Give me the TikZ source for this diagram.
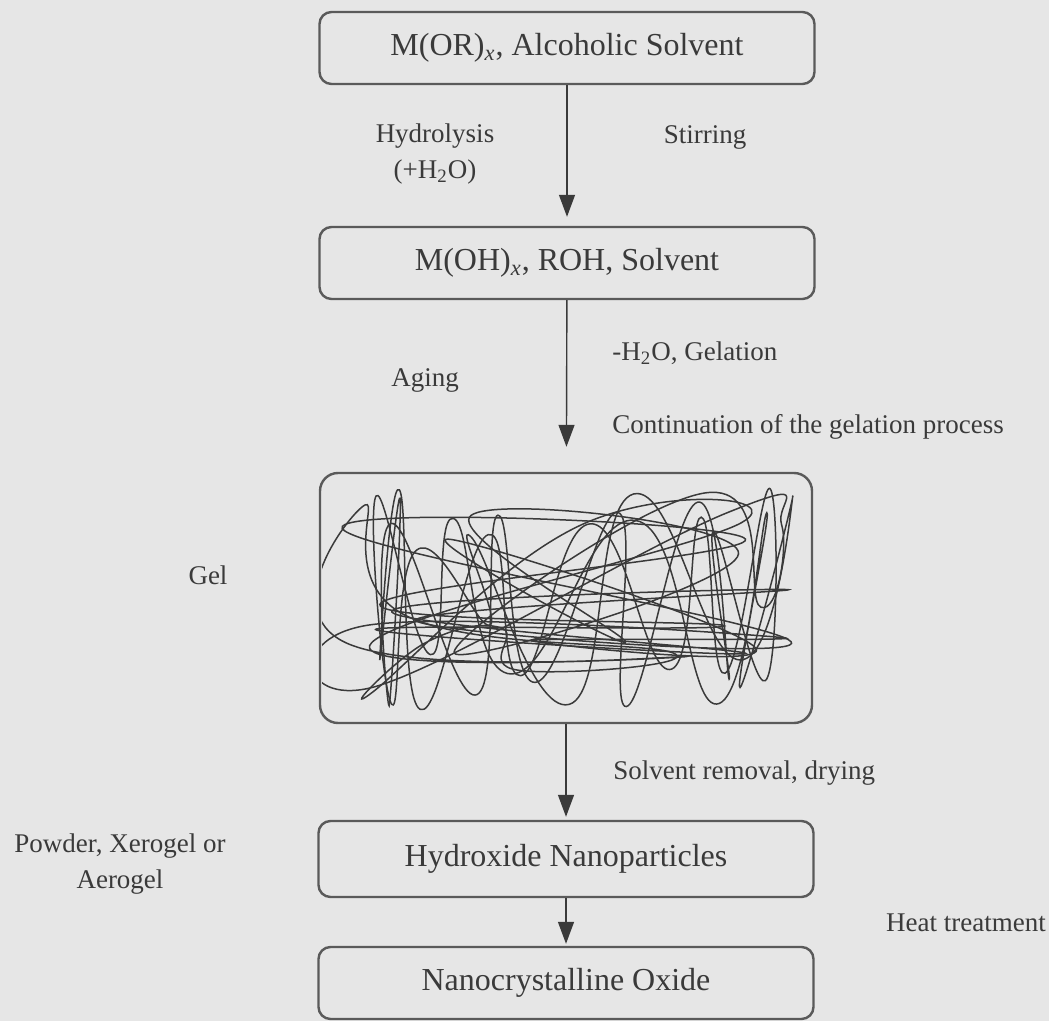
\documentclass[tikz,border=0pt]{standalone}
\usepackage{fontspec}
\setmainfont{Liberation Serif}
\usetikzlibrary{arrows.meta}
\definecolor{paper}{HTML}{E6E6E6}
\definecolor{ink}{HTML}{3A3A3A}
\definecolor{edge}{HTML}{5A5A5A}

\begin{document}
\begin{tikzpicture}[x=0.5pt,y=-0.5pt,
    stage/.style={draw=edge, line width=1.2pt, rounded corners=6pt, minimum width=247.5pt,
        minimum height=36pt, inner sep=0pt, text=ink, font=\fontsize{16}{19}\selectfont},
    note/.style={inner sep=0pt, text=ink, align=center, font=\fontsize{13.5}{18}\selectfont},
    flow/.style={draw=ink, line width=0.7pt, -{Triangle[width=8pt,length=11pt]}}]
    % page
    \fill[paper] (0,0) rectangle (1049,1021);
    \useasboundingbox (0,0) rectangle (1049,1021);

    % stages
    \node[stage] (mor) at (567,48) {M(OR)\textsubscript{\textit{x}}, Alcoholic Solvent};
    \node[stage] (moh) at (567,263) {M(OH)\textsubscript{\textit{x}}, ROH, Solvent};
    \node[stage, minimum width=246pt, minimum height=125pt, rounded corners=9pt] (gel) at (566,598) {};
    \node[stage, minimum height=38pt] (hydrox) at (566,859) {Hydroxide Nanoparticles};
    \node[stage] (oxide) at (566,983) {Nanocrystalline Oxide};

    % gel network: loose zigzag loops, plus random and sideways ones
    \begin{scope}[ink, line width=0.75pt]
        \clip[rounded corners=9pt] (322,475) rectangle (810,721);
        \pgfmathsetseed{23}
        \draw plot[smooth cycle, tension=0.85, samples=22, domain=1:22, variable=\t]
            ({565-190*cos(\t*360/22)+70*rnd-35}, {ifthenelse(mod(\t,2)==0, 488+50*rnd, 650+60*rnd)});
        \draw plot[smooth cycle, tension=0.85, samples=16, domain=1:16, variable=\t]
            ({565-190*cos(\t*360/16+30)+90*rnd-45}, {ifthenelse(mod(\t,2)==0, 490+80*rnd, 620+90*rnd)});
        \draw plot[smooth cycle, tension=0.8, samples=10, domain=1:10, variable=\t]
            ({ifthenelse(mod(\t,2)==0, 340+80*rnd, 710+85*rnd)}, {490+220*rnd});
        \draw plot[smooth cycle, tension=0.8, samples=14, domain=1:14, variable=\t]
            ({345+445*rnd}, {490+220*rnd});
        \draw plot[smooth cycle, tension=0.8, samples=12, domain=1:12, variable=\t]
            ({345+445*rnd}, {490+220*rnd});
    \end{scope}

    % arrows
    \draw[flow, shorten >=4.5pt] (mor) -- (moh);
    \draw[flow, shorten >=12.5pt] (moh) -- (gel);
    \draw[flow, shorten >=1.5pt] (gel) -- (hydrox);
    \draw[flow, shorten >=1pt] (hydrox) -- (oxide);

    % text
    \node[note] (hydrolysis) at (435,154) {Hydrolysis\\(+H\textsubscript{2}O)};
    \node[note] (stirring) at (705,137) {Stirring};
    \node[note, anchor=west] (gelation) at (612,353) {-H\textsubscript{2}O, Gelation};
    \node[note] (aging) at (425,380) {Aging};
    \node[note, anchor=west] (contin) at (612,427) {Continuation of the gelation process};
    \node[note] (gellabel) at (208,575) {Gel};
    \node[note, anchor=west] (drying) at (613,773) {Solvent removal, drying};
    \node[note] (powder) at (120,864) {Powder, Xerogel or\\Aerogel};
    \node[note] (heat) at (966,923) {Heat treatment};
\end{tikzpicture}
\end{document}
